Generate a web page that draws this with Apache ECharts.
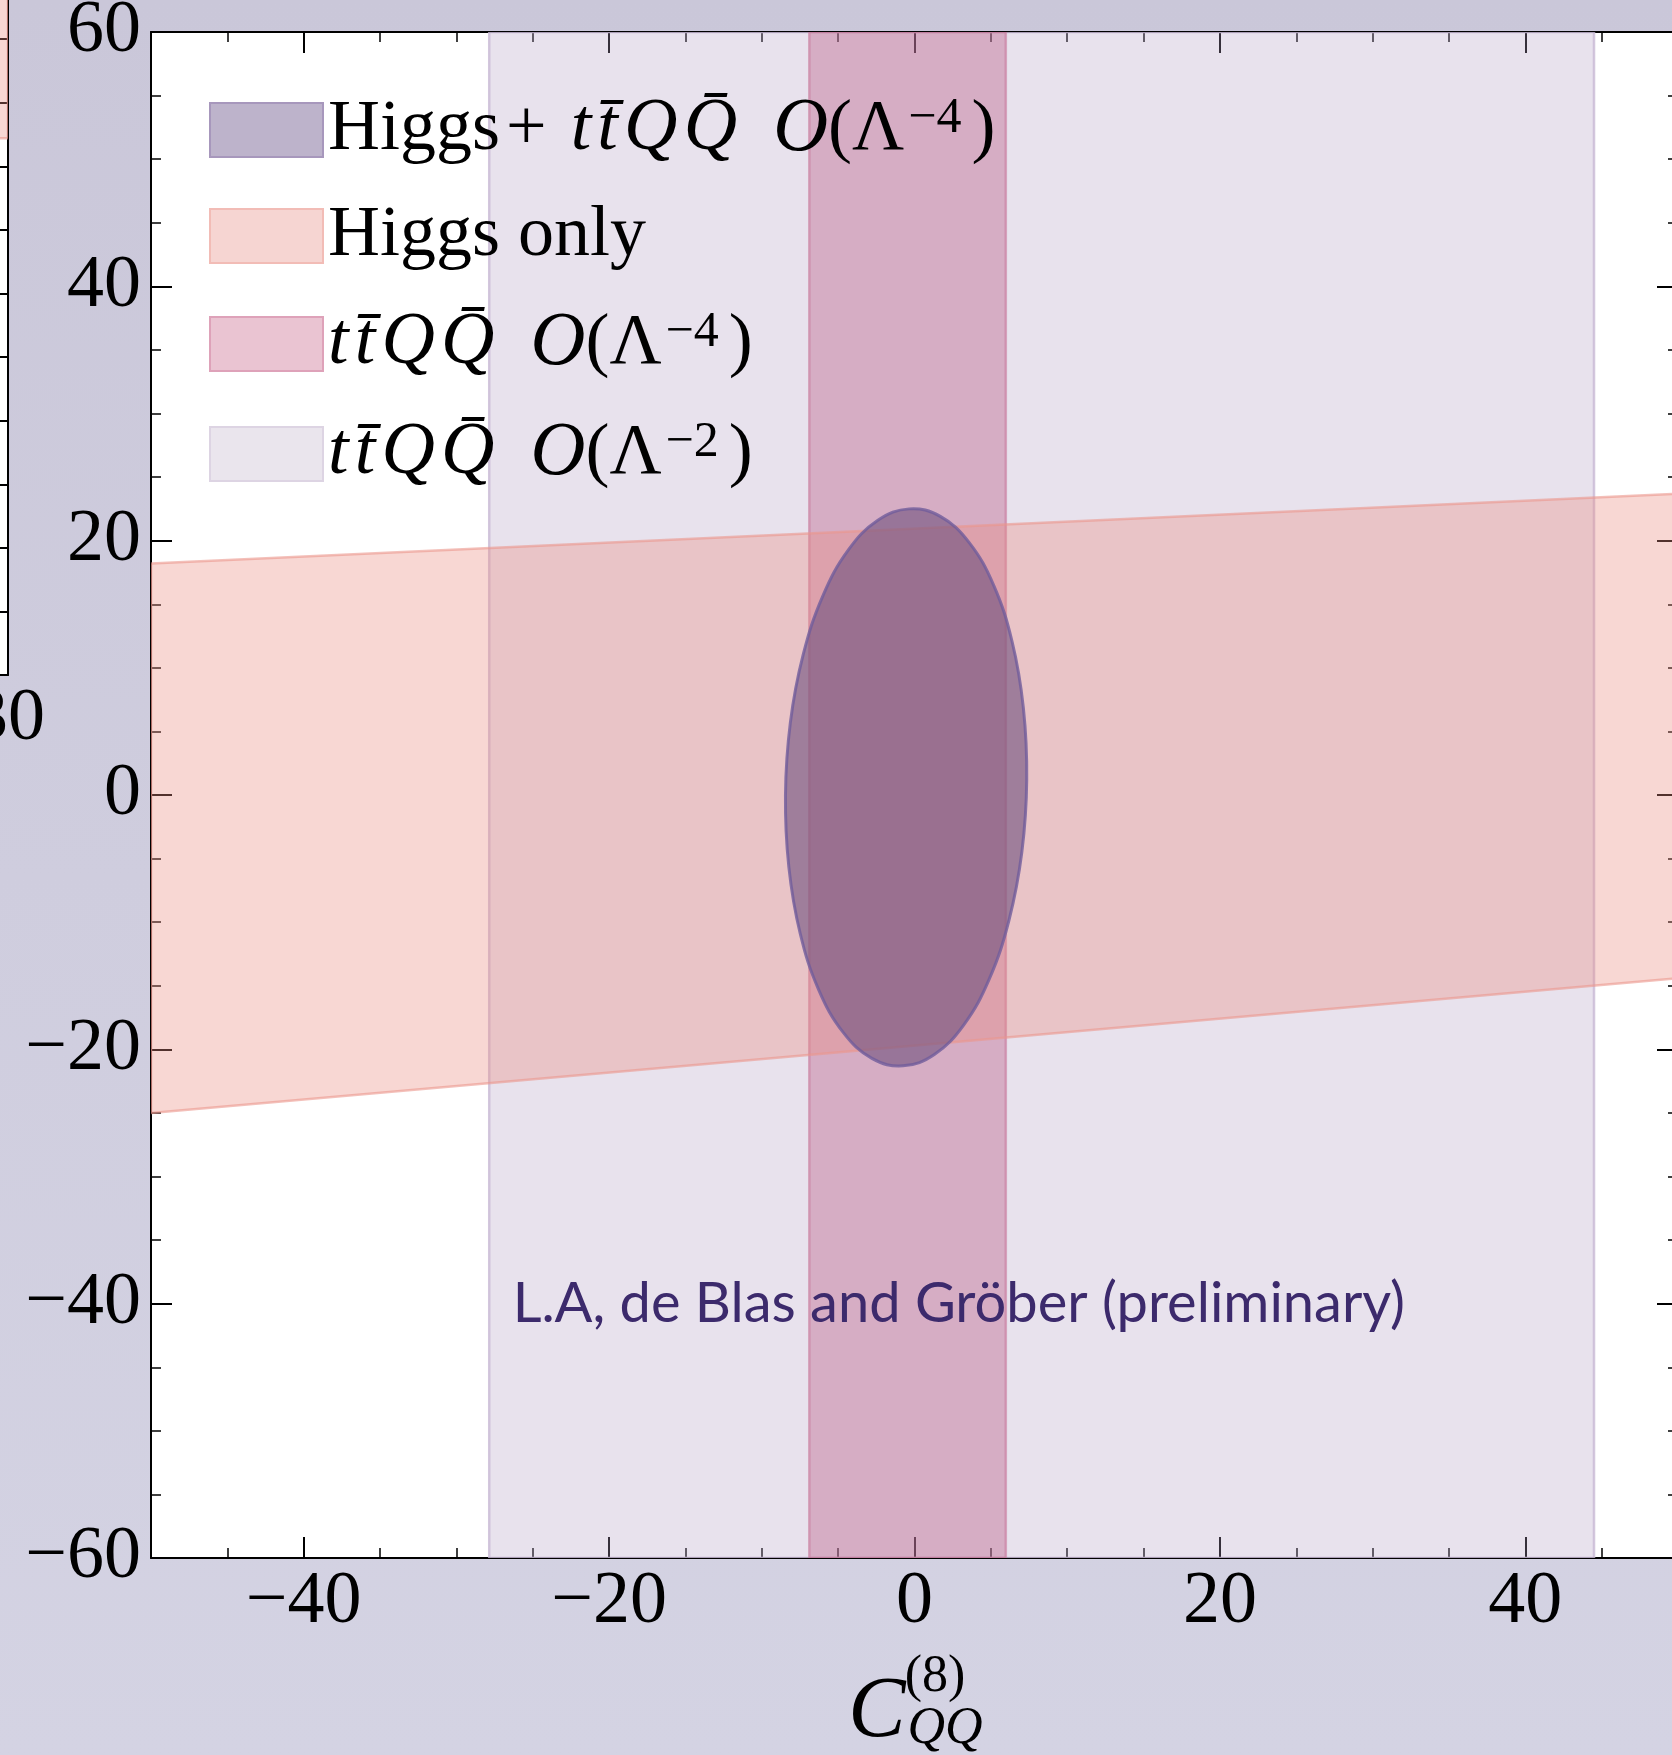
<!DOCTYPE html>
<html>
<head>
<meta charset="utf-8">
<script src="https://cdn.jsdelivr.net/npm/echarts@6/dist/echarts.min.js"></script>
<style>html,body{margin:0;padding:0;}#c{width:1672px;height:1755px;}</style>
</head>
<body>
<div id="c"></div>
<script>
// ---- data ----
const xRange = [-50, 50];
const yRange = [-60, 60];
const xMajorTicks = [-40, -20, 0, 20, 40];
const yInterval = 20;
const minorStep = 5;
// tt̄QQ̄ O(Λ^-2) allowed interval of C_QQ^(8)
const bandLambda2 = [-27.85, 44.5];
// tt̄QQ̄ O(Λ^-4) allowed interval of C_QQ^(8)
const bandLambda4 = [-6.89, 5.98];
// Higgs only band: upper and lower edges
const higgsUpper = [[-50, 18.2], [50, 23.7]];
const higgsLower = [[-50, -25.0], [50, -14.4]];
// Higgs + tt̄QQ̄ O(Λ^-4) contour (boundary points)
const comboContour = [
  [7.35, 1.2], [7.13, 6.85], [6.39, 12.07], [5.18, 16.51], [3.57, 19.87], [1.69, 21.91],
  [-0.35, 22.5], [-2.40, 21.6], [-4.33, 19.27], [-6.0, 15.66], [-7.29, 11.03], [-8.13, 5.69],
  [-8.45, 0.0], [-8.23, -5.65], [-7.49, -10.87], [-6.28, -15.3], [-4.67, -18.67], [-2.79, -20.71],
  [-0.75, -21.3], [1.30, -20.4], [3.23, -18.07], [4.9, -14.46], [6.19, -9.83], [7.03, -4.49]
];
const annotationText = 'L.A, de Blas and Gröber (preliminary)';
const annotationAt = [2.9, -40];
// neighbouring panel fragment (left edge)
const leftXRange = [-10, 30];
const leftXLabels = [30];
const leftYRange = [0, 60];
const leftBand = [[-10, 42.2], [30, 42.2], [30, 60], [-10, 60]];

// ---- chart ----
const chart = echarts.init(document.getElementById('c'), null, {renderer: 'canvas'});
const SERIF = '"Liberation Serif", "DejaVu Serif", serif';
const fmtNum = v => (v < 0 ? '\u2212' + Math.abs(v) : String(v));

function polySeries(name, pts, fill, stroke, lw, smooth, xi, yi) {
  return {
    type: 'custom', name: name, xAxisIndex: xi || 0, yAxisIndex: yi || 0,
    silent: true, clip: true, animation: false,
    itemStyle: {color: fill},
    data: [0],
    renderItem: function (params, api) {
      const p = pts.map(d => api.coord(d));
      return {type: 'polygon', shape: {points: p, smooth: smooth || 0, smoothConstraint: false},
        style: {fill: fill, stroke: stroke, lineWidth: lw}};
    }
  };
}

const band2 = [[bandLambda2[0], yRange[0]], [bandLambda2[1], yRange[0]], [bandLambda2[1], yRange[1]], [bandLambda2[0], yRange[1]]];
const band4 = [[bandLambda4[0], yRange[0]], [bandLambda4[1], yRange[0]], [bandLambda4[1], yRange[1]], [bandLambda4[0], yRange[1]]];
const higgsPoly = [higgsUpper[0], higgsUpper[1], higgsLower[1], higgsLower[0]];

const HS = '\u200A';
const TTQQ = 't' + HS + 't\u0304' + HS + 'Q' + HS + 'Q\u0304';
const legendLabels = {
  combo: '{r|Higgs}{p|+}{r| }{i|' + TTQQ + '}{r|  }{o|O}{r|(\u039B}{s|\u22124}{r|)}',
  higgs: '{r|Higgs only}',
  l4: '{i|' + TTQQ + '}{r|  }{o|O}{r|(\u039B}{s|\u22124}{r|)}',
  l2: '{i|' + TTQQ + '}{r|  }{o|O}{r|(\u039B}{s|\u22122}{r|)}'
};

const axisLine = {show: true, onZero: false, lineStyle: {color: '#000', width: 2}};
const majorTick = {show: true, inside: true, length: 21, lineStyle: {color: '#000', width: 2}};
const minorTickStyle = {show: true, inside: true, length: 10, lineStyle: {color: '#000', width: 1.5}};
const labelStyle = {fontFamily: SERIF, fontSize: 74, color: '#000'};

const option = {
  backgroundColor: new echarts.graphic.LinearGradient(0, 0, 0, 1, [
    {offset: 0, color: '#cac7d9'}, {offset: 1, color: '#d4d3e3'}]),
  animation: false,
  grid: [
    {left: 151, top: 32, width: 1527, height: 1526, show: true, backgroundColor: '#ffffff', borderWidth: 0,
      outerBoundsMode: 'none', containLabel: false},
    {left: -600, top: -88, width: 608, height: 763, show: true, backgroundColor: '#ffffff', borderWidth: 0,
      outerBoundsMode: 'none', containLabel: false}
  ],
  xAxis: [
    {type: 'value', gridIndex: 0, position: 'bottom', min: xRange[0], max: xRange[1], interval: minorStep,
      axisLine: axisLine, splitLine: {show: false},
      axisTick: Object.assign({customValues: xMajorTicks}, majorTick),
      axisLabel: Object.assign({customValues: xMajorTicks, margin: 8, formatter: fmtNum}, labelStyle)},
    {type: 'value', gridIndex: 0, position: 'bottom', min: xRange[0], max: xRange[1], interval: minorStep,
      axisLine: {show: false, onZero: false}, splitLine: {show: false}, axisLabel: {show: false}, axisTick: minorTickStyle},
    {type: 'value', gridIndex: 0, position: 'top', min: xRange[0], max: xRange[1], interval: minorStep,
      axisLine: axisLine, splitLine: {show: false},
      axisTick: Object.assign({customValues: xMajorTicks}, majorTick), axisLabel: {show: false}},
    {type: 'value', gridIndex: 0, position: 'top', min: xRange[0], max: xRange[1], interval: minorStep,
      axisLine: {show: false, onZero: false}, splitLine: {show: false}, axisLabel: {show: false}, axisTick: minorTickStyle},
    {type: 'value', gridIndex: 1, position: 'bottom', min: leftXRange[0], max: leftXRange[1], interval: 10,
      axisLine: axisLine, splitLine: {show: false}, axisTick: {show: false},
      axisLabel: Object.assign({customValues: leftXLabels, margin: 8, showMaxLabel: true, formatter: fmtNum}, labelStyle)}
  ],
  yAxis: [
    {type: 'value', gridIndex: 0, position: 'left', min: yRange[0], max: yRange[1], interval: yInterval,
      axisLine: axisLine, splitLine: {show: false}, axisTick: majorTick,
      minorTick: Object.assign({splitNumber: 4}, minorTickStyle),
      axisLabel: Object.assign({margin: 10, formatter: fmtNum}, labelStyle)},
    {type: 'value', gridIndex: 0, position: 'right', min: yRange[0], max: yRange[1], interval: yInterval,
      axisLine: axisLine, splitLine: {show: false}, axisTick: majorTick,
      minorTick: Object.assign({splitNumber: 4}, minorTickStyle), axisLabel: {show: false}},
    {type: 'value', gridIndex: 1, position: 'right', min: leftYRange[0], max: leftYRange[1], interval: minorStep,
      axisLine: axisLine, splitLine: {show: false},
      axisTick: {show: true, inside: true, length: 14, lineStyle: {color: '#000', width: 2}},
      axisLabel: {show: false}}
  ],
  legend: {
    orient: 'vertical', left: 209, top: 90, padding: 0, itemGap: 32,
    itemWidth: 113, itemHeight: 54, icon: 'rect', selectedMode: false,
    data: [
      {name: 'combo', itemStyle: {color: '#bdb3cb', borderColor: '#a797bc', borderWidth: 2}},
      {name: 'higgs', itemStyle: {color: '#f6d5d2', borderColor: '#f2bcb6', borderWidth: 2}},
      {name: 'l4', itemStyle: {color: '#eac4d2', borderColor: '#dea2b9', borderWidth: 2}},
      {name: 'l2', itemStyle: {color: '#eae5ed', borderColor: '#ddd4e3', borderWidth: 2}}
    ],
    formatter: name => legendLabels[name],
    textStyle: {
      fontFamily: SERIF, fontSize: 72, color: '#000',
      rich: {
        r: {fontFamily: SERIF, fontSize: 72, lineHeight: 80, color: '#000'},
        p: {fontFamily: SERIF, fontSize: 72, lineHeight: 80, color: '#000', padding: [0, 6, 0, 6]},
        i: {fontFamily: SERIF, fontSize: 74, fontStyle: 'italic', lineHeight: 80, color: '#000'},
        o: {fontFamily: SERIF, fontSize: 76, fontStyle: 'italic', lineHeight: 80, color: '#000'},
        s: {fontFamily: SERIF, fontSize: 50, lineHeight: 56, verticalAlign: 'top', color: '#000', padding: [4, 10, 0, 4]}
      }
    }
  },
  series: [
    polySeries('l2', band2, 'rgba(180,160,195,0.30)', 'rgba(200,185,212,0.8)', 2.5),
    polySeries('l4', band4, 'rgba(188,95,135,0.40)', 'rgba(200,120,155,0.6)', 2.5),
    polySeries('higgs', higgsPoly, 'rgba(235,140,130,0.35)', 'rgba(235,150,140,0.6)', 2.5),
    polySeries('combo', comboContour, 'rgba(110,80,125,0.60)', 'rgba(112,92,155,0.8)', 3, 0.4),
    {
      type: 'custom', name: 'annotation', silent: true, animation: false,
      data: [annotationAt],
      renderItem: function (params, api) {
        const p = api.coord([api.value(0), api.value(1)]);
        return {type: 'text', x: p[0], y: p[1], style: {
          text: annotationText, fill: '#3c2a6c',
          font: '56px Lato, "Open Sans", sans-serif',
          align: 'center', verticalAlign: 'middle', textAlign: 'center', textVerticalAlign: 'middle'}};
      }
    },
    polySeries('leftband', leftBand, 'rgba(235,140,130,0.35)', 'rgba(235,150,140,0.6)', 2.5, 0, 4, 2)
  ],
  graphic: [
    {type: 'text', x: 877, y: 1713, style: {text: 'C', font: 'italic 86px ' + SERIF, fill: '#000', align: 'center', verticalAlign: 'middle'}},
    {type: 'text', x: 935, y: 1677, style: {text: '(8)', font: '52px ' + SERIF, fill: '#000', align: 'center', verticalAlign: 'middle'}},
    {type: 'text', x: 945, y: 1729, style: {text: 'QQ', font: 'italic 52px ' + SERIF, fill: '#000', align: 'center', verticalAlign: 'middle'}}
  ]
};
chart.setOption(option);
</script>
</body>
</html>
